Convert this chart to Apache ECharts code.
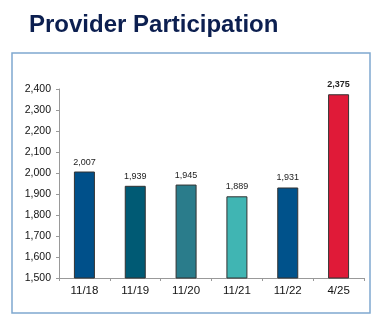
<!DOCTYPE html>
<html>
<head>
<meta charset="utf-8">
<script src="https://cdn.jsdelivr.net/npm/echarts@6/dist/echarts.min.js"></script>
<style>
html,body{margin:0;padding:0;background:#fff;}
#c{width:386px;height:329px;}
</style>
</head>
<body>
<div id="c"></div>
<script>
const categories = ["11/18", "11/19", "11/20", "11/21", "11/22", "4/25"];
const values = [2007, 1939, 1945, 1889, 1931, 2375];
const barColors = ["#00508a", "#005a74", "#2a7c8b", "#40b5b3", "#00528b", "#e01a38"];
const yTicks = [1500, 2400, 100];

const chart = echarts.init(document.getElementById('c'), null, {renderer: 'canvas'});
chart.setOption({
  animation: false,
  title: {
    text: 'Provider Participation',
    left: 24, top: 8,
    textStyle: {fontFamily: 'Liberation Sans', fontWeight: 'bold', fontSize: 24, color: '#0c1f50'}
  },
  graphic: [{
    type: 'rect',
    shape: {x: 12, y: 53, width: 358, height: 260},
    style: {fill: 'none', stroke: '#7fa8cf', lineWidth: 1.5},
    silent: true
  }],
  grid: {left: 59, right: 22, top: 89, bottom: 51},
  xAxis: {
    type: 'category',
    data: categories,
    axisLine: {lineStyle: {color: '#999', width: 1}},
    axisTick: {show: true, length: 3, lineStyle: {color: '#999'}},
    axisLabel: {fontFamily: 'Liberation Sans', fontSize: 11.5, color: '#111', margin: 7}
  },
  yAxis: {
    type: 'value',
    min: yTicks[0], max: yTicks[1], interval: yTicks[2],
    splitLine: {show: false},
    axisLine: {show: true, lineStyle: {color: '#999', width: 1}},
    axisTick: {show: true, length: 3, lineStyle: {color: '#999'}},
    axisLabel: {
      fontFamily: 'Liberation Sans', fontSize: 10.5, color: '#111', margin: 8,
      formatter: v => v.toLocaleString('en-US')
    }
  },
  series: [{
    type: 'bar',
    barWidth: 21,
    data: values.map((v, i) => ({
      value: v,
      itemStyle: {color: barColors[i], borderColor: '#333', borderWidth: 1},
      label: i === values.length - 1 ? {fontWeight: 'bold'} : {}
    })),
    label: {
      show: true, position: 'top', distance: 5,
      fontFamily: 'Liberation Sans', fontSize: 9, color: '#222',
      formatter: p => p.value.toLocaleString('en-US')
    }
  }]
});
</script>
</body>
</html>
